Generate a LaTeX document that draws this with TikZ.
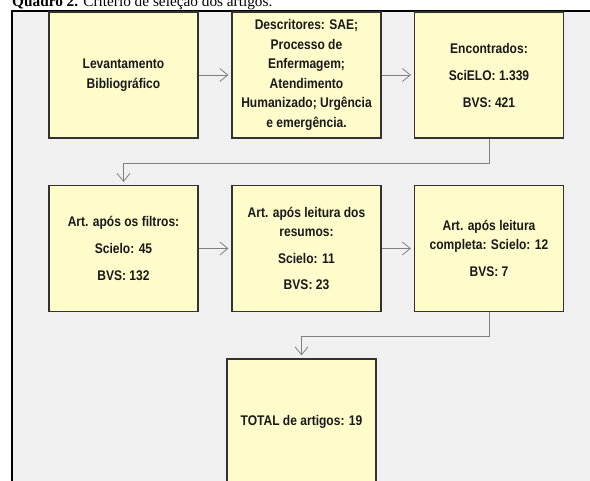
\documentclass[tikz,border=0pt]{standalone}
\usepackage{fontspec}
\setmainfont{Liberation Serif}
\newfontfamily\boxfont{Liberation Sans}[FakeStretch=0.86]
\usetikzlibrary{arrows.meta}
\definecolor{panelgray}{RGB}{240,240,240}
\definecolor{boxyellow}{RGB}{255,252,204}
\definecolor{linegray}{RGB}{128,128,128}
\definecolor{boxedge}{RGB}{50,50,50}
\definecolor{boxtext}{RGB}{25,25,25}
\tikzset{
  stepbox/.style={draw=boxedge, line width=1.1pt, fill=boxyellow,
    minimum width=149pt, minimum height=126pt, inner sep=1pt,
    align=center, font=\boxfont\bfseries\fontsize{14}{19.5}\selectfont, text=boxtext},
  link/.style={draw=linegray, line width=0.8pt,
    -{Straight Barb[length=8pt,width=13pt]}, shorten >=3pt}
}
\begin{document}
\begin{tikzpicture}[x=1pt,y=-1pt]
\useasboundingbox (0,0) rectangle (590,481);
\clip (0,0) rectangle (590,481);
\fill[white] (0,0) rectangle (590,481);
\fill[panelgray] (12,11) rectangle (592,490);
\draw[black, line width=1.5pt] (12,490) -- (12,11) -- (592,11);
\node[anchor=base west, inner sep=0pt, font=\fontsize{15.3}{17}\selectfont] (title) at (12,6.5)
  {\textbf{Quadro 2.} Critério de seleção dos artigos.};

\node[stepbox] (b1) at (123.5,75) {Levantamento\\Bibliográfico};
\node[stepbox] (b2) at (306.5,75) {Descritores: SAE;\\Processo de\\Enfermagem;\\Atendimento\\Humanizado; Urgência\\e emergência.};
\node[stepbox] (b3) at (489,75) {Encontrados:\\[7.5pt]SciELO: 1.339\\[7.5pt]BVS: 421};

\node[stepbox] (b4) at (123.5,248.5) {Art. após os filtros:\\[7.5pt]Scielo: 45\\[7.5pt]BVS: 132};
\node[stepbox] (b5) at (306.5,248.5) {Art. após leitura dos\\resumos:\\[7pt]Scielo: 11\\[7pt]BVS: 23};
\node[stepbox] (b6) at (489,248.5) {Art. após leitura\\completa: Scielo: 12\\[7.5pt]BVS: 7};

\node[stepbox] (b7) at (301.5,422) {TOTAL de artigos: 19};

\draw[link] (b1) -- (b2);
\draw[link] (b2) -- (b3);
\draw[link] (b4) -- (b5);
\draw[link] (b5) -- (b6);
\draw[link] (b3.south) -- ++(0,25) -| (b4.north);
\draw[link] (b6.south) -- ++(0,24) -| (b7.north);
\end{tikzpicture}
\end{document}
